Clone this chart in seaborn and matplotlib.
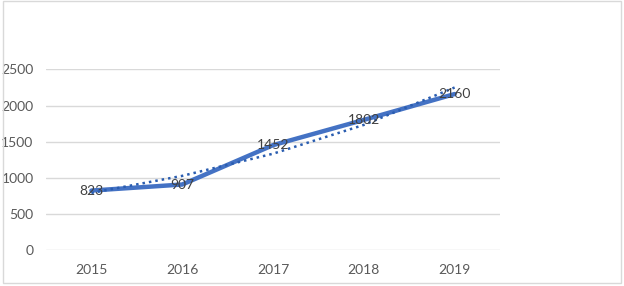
import numpy as np
import pandas as pd
import matplotlib
matplotlib.use("Agg")
import matplotlib.pyplot as plt
import seaborn as sns

years = ["2015", "2016", "2017", "2018", "2019"]
values = [823, 907, 1452, 1802, 2160]
y_ticks = [0, 500, 1000, 1500, 2000, 2500]

df = pd.DataFrame({"year": years, "value": values, "pos": range(len(years))})

# exponential trendline, as the spreadsheet draws it
b, a = np.polyfit(df["pos"], np.log(df["value"]), 1)
df["trend"] = np.exp(a + b * df["pos"])

sns.set_style("white")
plt.rcParams["font.family"] = ["Lato", "DejaVu Sans"]

fig = plt.figure(figsize=(6.24, 2.86), dpi=100)
ax = fig.add_axes([0.0737, 0.1259, 0.7276, 0.6311])

sns.lineplot(data=df, x="pos", y="value", ax=ax, color="#4472C4", lw=3.2,
             solid_capstyle="round", zorder=3)
sns.lineplot(data=df, x="pos", y="trend", ax=ax, color="#2A5DB0", lw=1.8,
             linestyle=(0, (1, 1.6)), zorder=4)

for _, r in df.iterrows():
    ax.text(r["pos"], r["value"], str(r["value"]), ha="center", va="center",
            fontsize=10, color="#404040", zorder=5)

ax.set_xlim(-0.5, len(years) - 0.5)
ax.set_ylim(0, 2500)
ax.set_xticks(df["pos"])
ax.set_xticklabels(years)
ax.set_yticks(y_ticks)
ax.set_yticklabels([str(t) for t in y_ticks])
ax.tick_params(axis="both", length=0, labelsize=10, labelcolor="#595959")
ax.tick_params(axis="y", pad=9)
ax.tick_params(axis="x", pad=10)
ax.set_xlabel("")
ax.set_ylabel("")
ax.grid(axis="y", color="#D9D9D9", lw=1)
ax.set_axisbelow(True)
for s in ax.spines.values():
    s.set_visible(False)
ax.patch.set_alpha(0)

fig.patches.append(plt.Rectangle((0.005, 0.01), 0.99, 0.985, transform=fig.transFigure,
                                 fill=False, edgecolor="#D9D9D9", lw=1))

fig.savefig("out.png", dpi=100)
